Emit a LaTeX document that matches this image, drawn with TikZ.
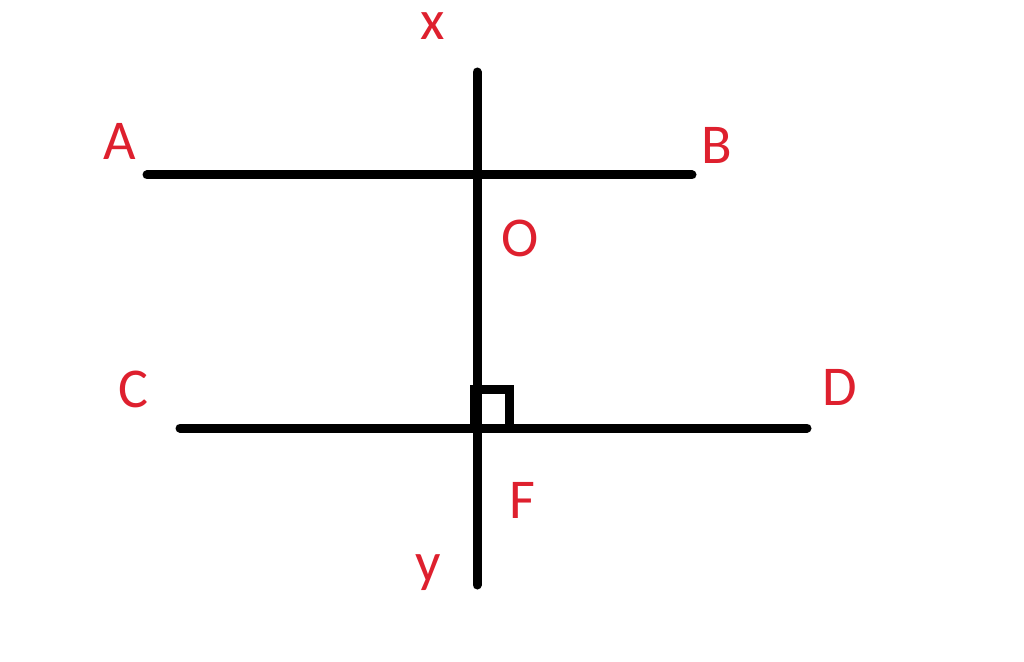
\documentclass[tikz,border=0pt]{standalone}
\usepackage{fontspec}
\setmainfont{Carlito}
\definecolor{lblred}{RGB}{222,32,46}
\begin{document}
\begin{tikzpicture}[x=0.02cm,y=-0.02cm,
  seg/.style={line width=0.18cm,line cap=round},
  lbl/.style={text=lblred,anchor=base,inner sep=0pt,font=\fontsize{32}{36}\selectfont}]
  \useasboundingbox (0,0) rectangle (1024,662);

  % the lines
  \coordinate (xtop) at (477,72);
  \coordinate (ybot) at (477,585);
  \coordinate (a) at (147,175);
  \coordinate (b) at (692,175);
  \coordinate (c) at (180,428);
  \coordinate (d) at (807,428);
  \draw[seg] (xtop) -- (ybot);
  \draw[seg] (a) -- (b);
  \draw[seg] (c) -- (d);

  % right angle mark
  \coordinate (f) at (477,428);
  \draw[line width=0.18cm] (474,428) -- (474,389) -- (509,389) -- (509,428);

  % labels
  \node[lbl] (lx) at (433,40) {x};
  \node[lbl] (lA) at (120,160) {A};
  \node[lbl] (lB) at (717,164) {B};
  \node[lbl] (lO) at (520,256) {O};
  \node[lbl] (lC) at (133,407) {C};
  \node[lbl] (lD) at (840,405) {D};
  \node[lbl] (lF) at (522,518) {F};
  \node[lbl] (ly) at (428,581) {y};
\end{tikzpicture}
\end{document}
